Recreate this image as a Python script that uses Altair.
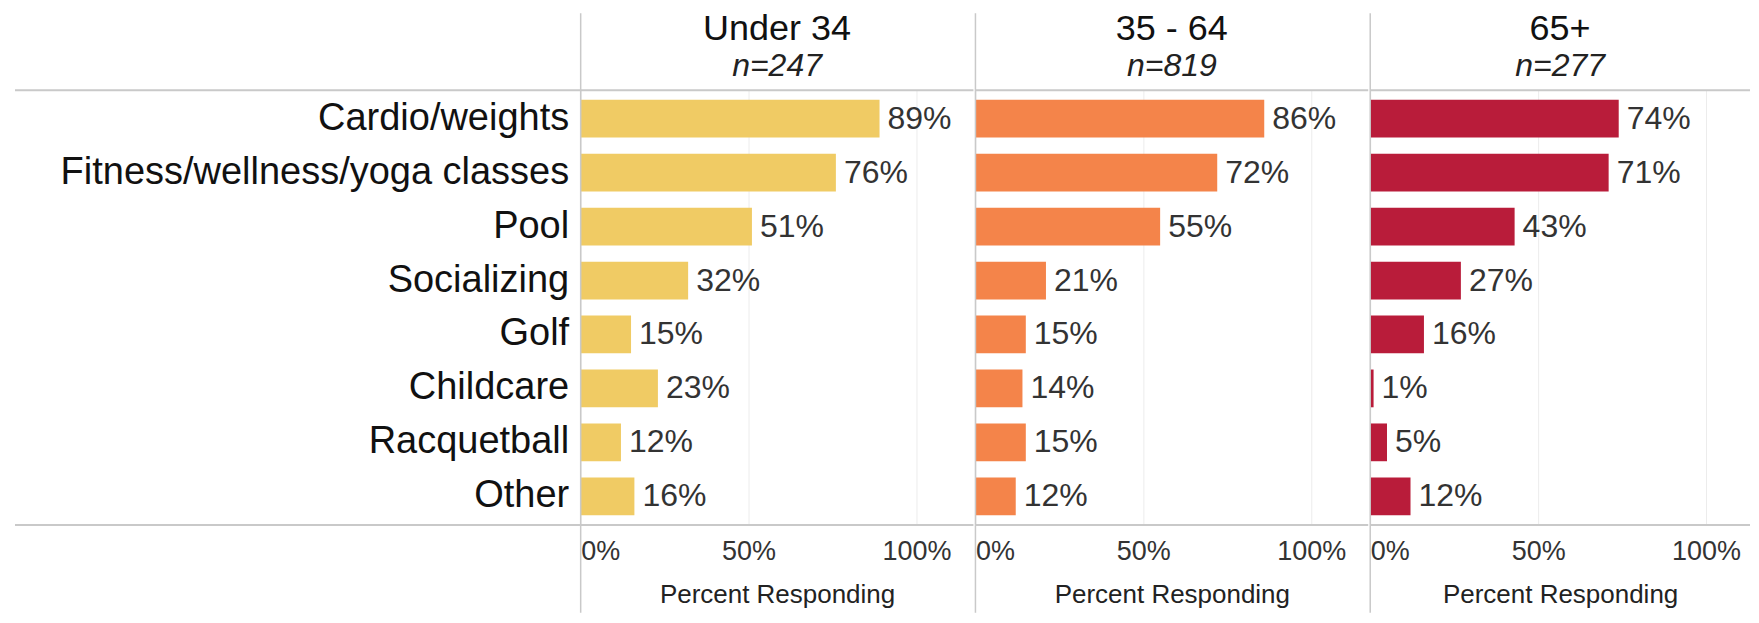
import altair as alt
import pandas as pd

# ---- data ----
categories = ["Cardio/weights", "Fitness/wellness/yoga classes", "Pool", "Socializing",
              "Golf", "Childcare", "Racquetball", "Other"]
groups = ["Under 34", "35 - 64", "65+"]
sample_sizes = ["n=247", "n=819", "n=277"]
pct_under34 = [89, 76, 51, 32, 15, 23, 12, 16]
pct_35_64 = [86, 72, 55, 21, 15, 14, 15, 12]
pct_65plus = [74, 71, 43, 27, 16, 1, 5, 12]
series = [pct_under34, pct_35_64, pct_65plus]
colors = ["#F0CB64", "#F4844A", "#B91C3A"]
tick_values = [0, 0.5, 1.0]

FONT = "Liberation Sans"
PX_PER_UNIT = 336
widths = [393, 393, 380]
H = 435
LINE = "#c9c9c9"
RULE_TOP = 77

one_row = pd.DataFrame({"k": [0]})


def panel(i):
    df = pd.DataFrame({"category": categories, "value": [v / 100 for v in series[i]]})
    w = widths[i]
    x = alt.X(
        "value:Q",
        scale=alt.Scale(domain=[0, w / PX_PER_UNIT], nice=False, zero=True),
        axis=alt.Axis(values=tick_values, format=".0%", labelFlush=True,
                      title="Percent Responding", grid=True, gridColor="#ececec",
                      ticks=False, domain=False, labelFontSize=27, labelColor="#333",
                      labelPadding=14, titleFontSize=26, titleFontWeight="normal",
                      titleColor="#222", titlePadding=17, labelFont=FONT, titleFont=FONT),
    )
    if i == 0:
        yaxis = alt.Axis(title=None, labelFontSize=38, labelColor="#111", labelPadding=12,
                         ticks=False, domain=False, minExtent=568, maxExtent=568,
                         labelLimit=600, grid=False, labelFont=FONT)
    else:
        yaxis = None
    y = alt.Y("category:N", sort=categories,
              scale=alt.Scale(paddingInner=0.3, paddingOuter=0.18), axis=yaxis)

    base = alt.Chart(df)
    bars = base.mark_bar(color=colors[i]).encode(x=x, y=y)
    labels = base.mark_text(align="left", baseline="middle", dx=8, fontSize=32,
                            color="#333", font=FONT).encode(
        x="value:Q", y=alt.Y("category:N", sort=categories),
        text=alt.Text("value:Q", format=".0%"))

    rules = alt.Chart(one_row)
    vline = rules.mark_rule(color=LINE, strokeWidth=1.5).encode(
        x=alt.value(0), y=alt.value(-RULE_TOP), y2=alt.value(H + 88))
    left = -566 if i == 0 else 0
    top_line = rules.mark_rule(color=LINE, strokeWidth=2).encode(
        x=alt.value(left), x2=alt.value(w), y=alt.value(0))
    bottom_line = rules.mark_rule(color=LINE, strokeWidth=2).encode(
        x=alt.value(left), x2=alt.value(w), y=alt.value(H))

    return alt.layer(bars, labels, top_line, bottom_line, vline).properties(
        width=w, height=H,
        title=alt.TitleParams(text=groups[i], subtitle=sample_sizes[i], fontSize=36,
                              subtitleFontSize=32, subtitleFontStyle="italic",
                              anchor="middle", frame="group", offset=6 - RULE_TOP,
                              subtitlePadding=3, font=FONT, subtitleFont=FONT,
                              color="#111", subtitleColor="#222", fontWeight="normal"),
    )


chart = alt.hconcat(*[panel(i) for i in range(3)], spacing=0).properties(
    padding={"left": 5, "top": 3, "right": 0, "bottom": 0}
).configure_view(stroke=None).configure_concat(spacing=0)

chart.save("out.html", embed_options={"renderer": "svg", "actions": False})
